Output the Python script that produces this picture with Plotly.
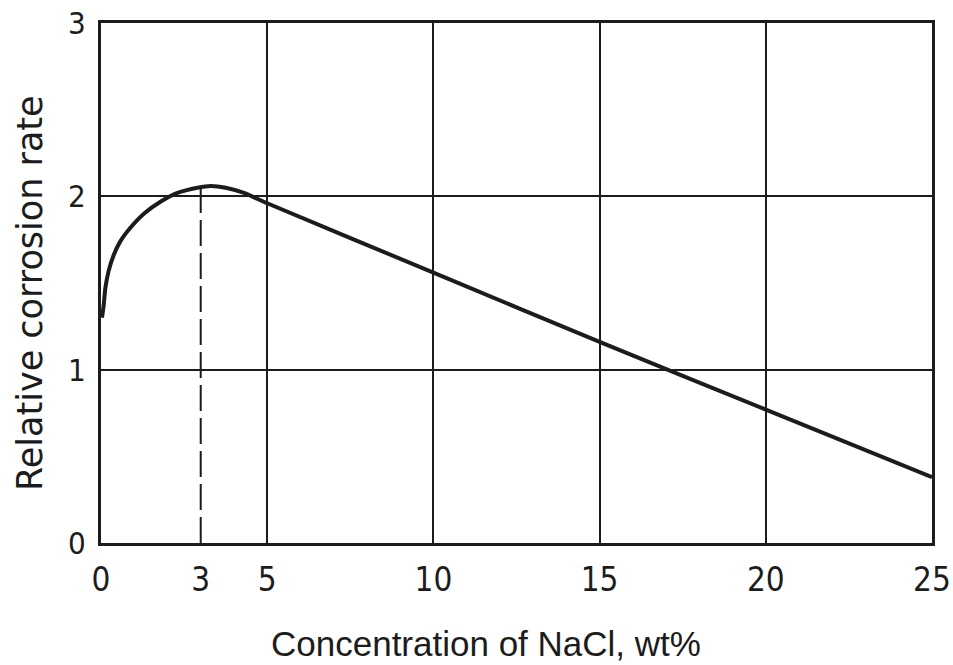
import plotly.graph_objects as go

# Data
conc = [0.03, 0.08, 0.13, 0.23, 0.38, 0.58, 0.89, 1.29, 1.8, 2.3, 2.9, 3.3, 3.75, 4.3, 5.0, 10.0, 15.0, 20.0, 25.0]
rate = [1.30, 1.37, 1.47, 1.57, 1.66, 1.74, 1.82, 1.90, 1.97, 2.02, 2.05, 2.06, 2.05, 2.02, 1.96, 1.56, 1.16, 0.77, 0.38]
peak_x = [3, 3]
peak_y = [0, 2.06]
x_tick_vals = [0, 3, 5, 10, 15, 20, 25]
x_grid_vals = [0, 5, 10, 15, 20, 25]
y_tick_vals = [0, 1, 2, 3]
x_title = "Concentration of NaCl, wt%"
y_title = "Relative corrosion rate"

ink = "#1c1c1c"
x_tick_font = dict(family="DejaVu Sans Condensed, sans-serif", size=33, color=ink)
y_tick_font = dict(family="DejaVu Sans Condensed, sans-serif", size=31, color=ink)
x_title_font = dict(family="Liberation Sans, Arial, sans-serif", size=35, color=ink)
y_title_font = dict(family="DejaVu Sans, sans-serif", size=35, color=ink)

fig = go.Figure()
fig.add_trace(go.Scatter(x=peak_x, y=peak_y, mode="lines",
                         line=dict(color=ink, width=2, dash="26px,7px"),
                         showlegend=False, hoverinfo="skip"))
fig.add_trace(go.Scatter(x=conc, y=rate, mode="lines", line_shape="spline",
                         line=dict(color=ink, width=4, smoothing=0.5),
                         showlegend=False))
# invisible trace on secondary x axis to carry the vertical gridlines
fig.add_trace(go.Scatter(x=[0, 25], y=[0, 0], xaxis="x2", mode="lines",
                         line=dict(width=0), showlegend=False, hoverinfo="skip"))

fig.update_layout(
    width=953, height=665,
    margin=dict(l=101, r=21, t=23, b=122),
    paper_bgcolor="white", plot_bgcolor="white",
    xaxis=dict(range=[0, 25], tickvals=x_tick_vals, ticktext=[str(v) for v in x_tick_vals],
               showgrid=False, zeroline=False, showline=True, linecolor=ink,
               linewidth=3, mirror=True, ticks="", tickfont=x_tick_font,
               ticklabelstandoff=5, automargin=False, ticklabeloverflow="allow"),
    xaxis2=dict(range=[0, 25], overlaying="x", tickvals=x_grid_vals, showticklabels=False,
                showgrid=True, gridcolor=ink, gridwidth=2, zeroline=False,
                showline=False, ticks="", automargin=False),
    yaxis=dict(range=[0, 3], tickvals=y_tick_vals, showgrid=True, gridcolor=ink,
               gridwidth=2, zeroline=False, showline=True, linecolor=ink,
               linewidth=3, mirror=True, ticks="", tickfont=y_tick_font,
               ticklabelstandoff=6, automargin=False, ticklabeloverflow="allow"),
    annotations=[
        dict(text=x_title, xref="paper", yref="paper", x=0.463, y=-0.193,
             xanchor="center", yanchor="middle", showarrow=False, font=x_title_font),
        dict(text=y_title, xref="paper", yref="paper", x=-0.0854, y=0.481,
             xanchor="center", yanchor="middle", textangle=-90, showarrow=False,
             font=y_title_font),
    ],
)

fig.write_html("out.html",
               config={"displayModeBar": False},
               post_script="document.body.style.margin='0';document.body.style.overflow='hidden';")
